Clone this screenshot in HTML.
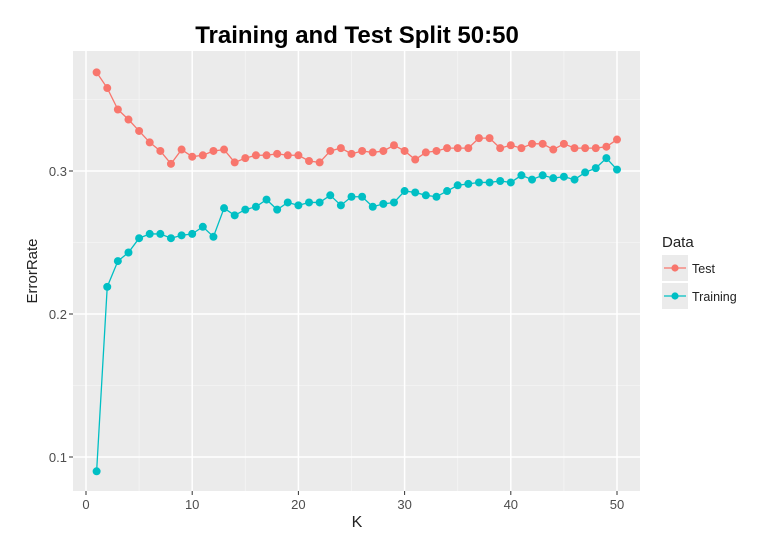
<!DOCTYPE html>
<html><head><meta charset="utf-8"><style>
body{margin:0;background:#fff;font-family:"Liberation Sans",sans-serif}
</style></head><body>
<svg id="chart" width="760" height="553" xmlns="http://www.w3.org/2000/svg">
<text x="357" y="43" text-anchor="middle" font-size="24" font-weight="bold" fill="#000">Training and Test Split 50:50</text>
<rect x="73" y="51" width="567" height="440" fill="#EBEBEB"/>
<g id="grid"></g><g id="axes"></g><g id="series"></g>
<text x="357" y="527" text-anchor="middle" font-size="16" fill="#222">K</text>
<text transform="translate(37,271) rotate(-90)" text-anchor="middle" font-size="15" fill="#222">ErrorRate</text>
<g>
<text x="662" y="247" font-size="15" fill="#222">Data</text>
<g>
<rect x="662" y="255" width="26" height="26" fill="#EBEBEB"/>
<line x1="664" y1="268" x2="686" y2="268" stroke="#F8766D" stroke-width="1.2"/>
<circle cx="675" cy="268" r="3.6" fill="#F8766D"/>
<text x="692" y="273" font-size="12.5" fill="#222">Test</text></g>
<g>
<rect x="662" y="283" width="26" height="26" fill="#EBEBEB"/>
<line x1="664" y1="296" x2="686" y2="296" stroke="#00BFC4" stroke-width="1.2"/>
<circle cx="675" cy="296" r="3.6" fill="#00BFC4"/>
<text x="692" y="301" font-size="12.5" fill="#222">Training</text></g>
</g>
</svg>
<script>
const kValues=[1,2,3,4,5,6,7,8,9,10,11,12,13,14,15,16,17,18,19,20,21,22,23,24,25,26,27,28,29,30,31,32,33,34,35,36,37,38,39,40,41,42,43,44,45,46,47,48,49,50];
const testErr=[0.369,0.358,0.343,0.336,0.328,0.320,0.314,0.305,0.315,0.310,0.311,0.314,0.315,0.306,0.309,0.311,0.311,0.312,0.311,0.311,0.307,0.306,0.314,0.316,0.312,0.314,0.313,0.314,0.318,0.314,0.308,0.313,0.314,0.316,0.316,0.316,0.323,0.323,0.316,0.318,0.316,0.319,0.319,0.315,0.319,0.316,0.316,0.316,0.317,0.322];
const trainErr=[0.090,0.219,0.237,0.243,0.253,0.256,0.256,0.253,0.255,0.256,0.261,0.254,0.274,0.269,0.273,0.275,0.280,0.273,0.278,0.276,0.278,0.278,0.283,0.276,0.282,0.282,0.275,0.277,0.278,0.286,0.285,0.283,0.282,0.286,0.290,0.291,0.292,0.292,0.293,0.292,0.297,0.294,0.297,0.295,0.296,0.294,0.299,0.302,0.309,0.301];
const xTicks=[0,10,20,30,40,50];
const yTicks=[0.1,0.2,0.3];
const xMinor=[5,15,25,35,45];
const yMinor=[0.15,0.25,0.35];
const NS='http://www.w3.org/2000/svg';
const X=k=>86+k*10.62;
const Y=v=>171-(v-0.3)*1430;
const L=73,R=640,T=51,B=491;
function mk(tag,attrs,parent){const e=document.createElementNS(NS,tag);for(const a in attrs)e.setAttribute(a,attrs[a]);parent.appendChild(e);return e;}
const grid=document.getElementById('grid'),axes=document.getElementById('axes'),series=document.getElementById('series');
xMinor.forEach(k=>{const l=mk('line',{x1:X(k),x2:X(k),y1:T,y2:B,stroke:'#F5F5F5','stroke-width':0.8},grid);

});
yMinor.forEach(v=>{const l=mk('line',{x1:L,x2:R,y1:Y(v),y2:Y(v),stroke:'#F5F5F5','stroke-width':0.8},grid);

});
xTicks.forEach(k=>{const l=mk('line',{x1:X(k),x2:X(k),y1:T,y2:B,stroke:'#fff','stroke-width':1.5},grid);


mk('line',{x1:X(k),x2:X(k),y1:B,y2:B+4,stroke:'#333','stroke-width':1},axes);
const t=mk('text',{x:X(k),y:B+18,'text-anchor':'middle','font-size':13,fill:'#4d4d4d'},axes);t.textContent=k;

});
yTicks.forEach(v=>{const l=mk('line',{x1:L,x2:R,y1:Y(v),y2:Y(v),stroke:'#fff','stroke-width':1.5},grid);


mk('line',{x1:L-4,x2:L,y1:Y(v),y2:Y(v),stroke:'#333','stroke-width':1},axes);
const t=mk('text',{x:L-6,y:Y(v)+5,'text-anchor':'end','font-size':13,fill:'#4d4d4d'},axes);t.textContent=v.toFixed(1);

});
function draw(vals,color,name){
const g=mk('g',{},series);


const p=mk('polyline',{points:kValues.map((k,i)=>X(k)+','+Y(vals[i])).join(' '),fill:'none',stroke:color,'stroke-width':1.3},g);


kValues.forEach((k,i)=>{const c=mk('circle',{cx:X(k),cy:Y(vals[i]),r:4,fill:color},g);

});}
draw(testErr,'#F8766D','test');
draw(trainErr,'#00BFC4','training');
</script>
</body></html>
